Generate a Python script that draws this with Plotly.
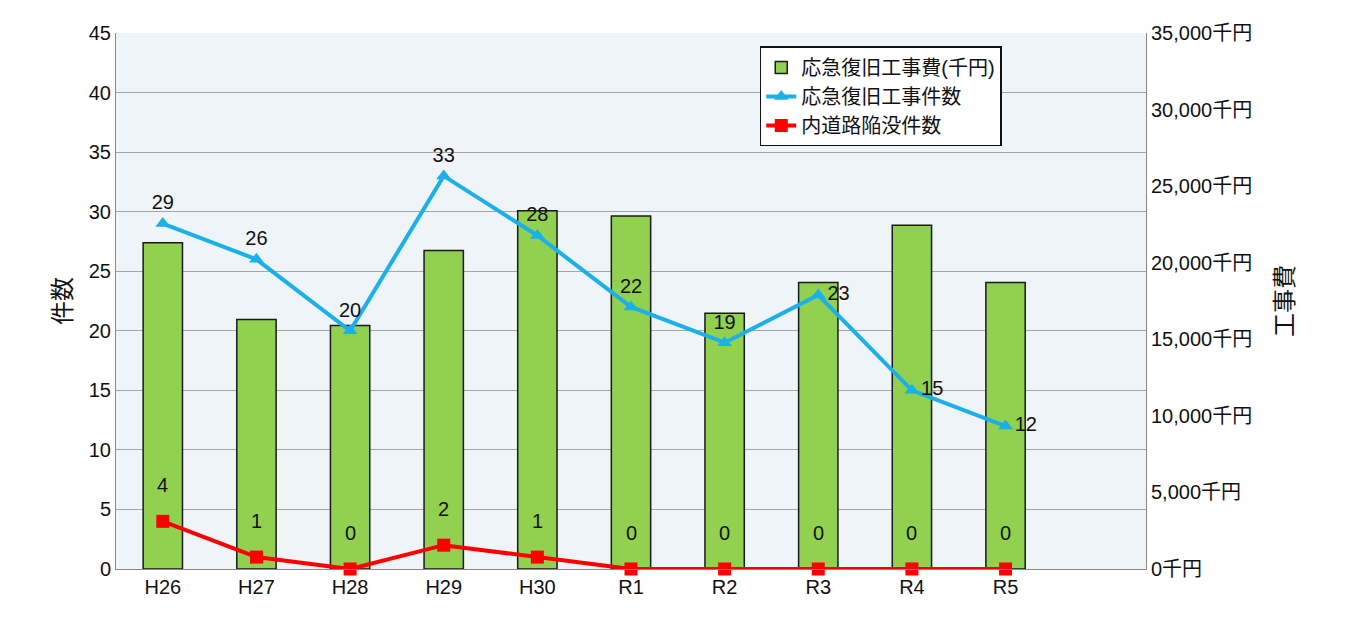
import plotly.graph_objects as go

years = ['H26', 'H27', 'H28', 'H29', 'H30', 'R1', 'R2', 'R3', 'R4', 'R5']
costs = [21300, 16300, 15900, 20800, 23400, 23050, 16700, 18700, 22450, 18700]
repairs = [29, 26, 20, 33, 28, 22, 19, 23, 15, 12]
sinkholes = [4, 1, 0, 2, 1, 0, 0, 0, 0, 0]

repairPos = ['top center'] * 7 + ['middle right'] * 3
FONT = 'Liberation Sans, Noto Sans CJK JP'

fig = go.Figure()
# bars on the base axis (drawn right), lines on the overlaying axis (drawn left) so lines sit on top
fig.add_trace(go.Bar(x=years, y=costs, name='応急復旧工事費(千円)', yaxis='y',
                     marker=dict(color='#92d050', line=dict(color='#1a1a1a', width=1.5)),
                     width=0.42))
fig.add_trace(go.Scatter(x=years, y=repairs, name='応急復旧工事件数', mode='lines+markers+text',
                         yaxis='y2', cliponaxis=False,
                         line=dict(color='#1cb0e8', width=4),
                         marker=dict(symbol='triangle-up', size=13, color='#1cb0e8'),
                         text=[str(v) for v in repairs], textposition=repairPos,
                         textfont=dict(size=20, color='#111')))
fig.add_trace(go.Scatter(x=years, y=sinkholes, name='内道路陥没件数', mode='lines+markers',
                         yaxis='y2', cliponaxis=False,
                         line=dict(color='#ff0000', width=4),
                         marker=dict(symbol='square', size=13, color='#ff0000')))
for yr, v in zip(years, sinkholes):
    fig.add_annotation(x=yr, y=v, yref='y2', text=str(v), showarrow=False, yshift=36,
                       font=dict(size=20, color='#111'))

fig.update_layout(
    width=1354, height=626,
    margin=dict(l=108, r=216, t=25, b=65, autoexpand=False),
    paper_bgcolor='white', plot_bgcolor='#eef4f7',
    font=dict(family=FONT, size=20, color='#111'),
    xaxis=dict(range=[-0.5, 10.5], showline=True, linecolor='#888', ticks='', tickfont=dict(size=20)),
    yaxis=dict(range=[0, 35000], dtick=5000, side='right', tickformat=',',
               ticksuffix='千円', showgrid=False, showline=True, linecolor='#888',
               title=dict(text='工事費', standoff=25), zeroline=False),
    yaxis2=dict(range=[0, 45], dtick=5, overlaying='y', side='left', gridcolor='#a6a6a6',
                showgrid=True, showline=True, linecolor='#888',
                title=dict(text='件数', standoff=10), zeroline=False),
    legend=dict(x=0.625, y=0.975, xanchor='left', yanchor='top', bgcolor='white',
                bordercolor='#111', borderwidth=1.5, font=dict(size=20), tracegroupgap=0),
    showlegend=True,
)

fig.write_html('out.html')
